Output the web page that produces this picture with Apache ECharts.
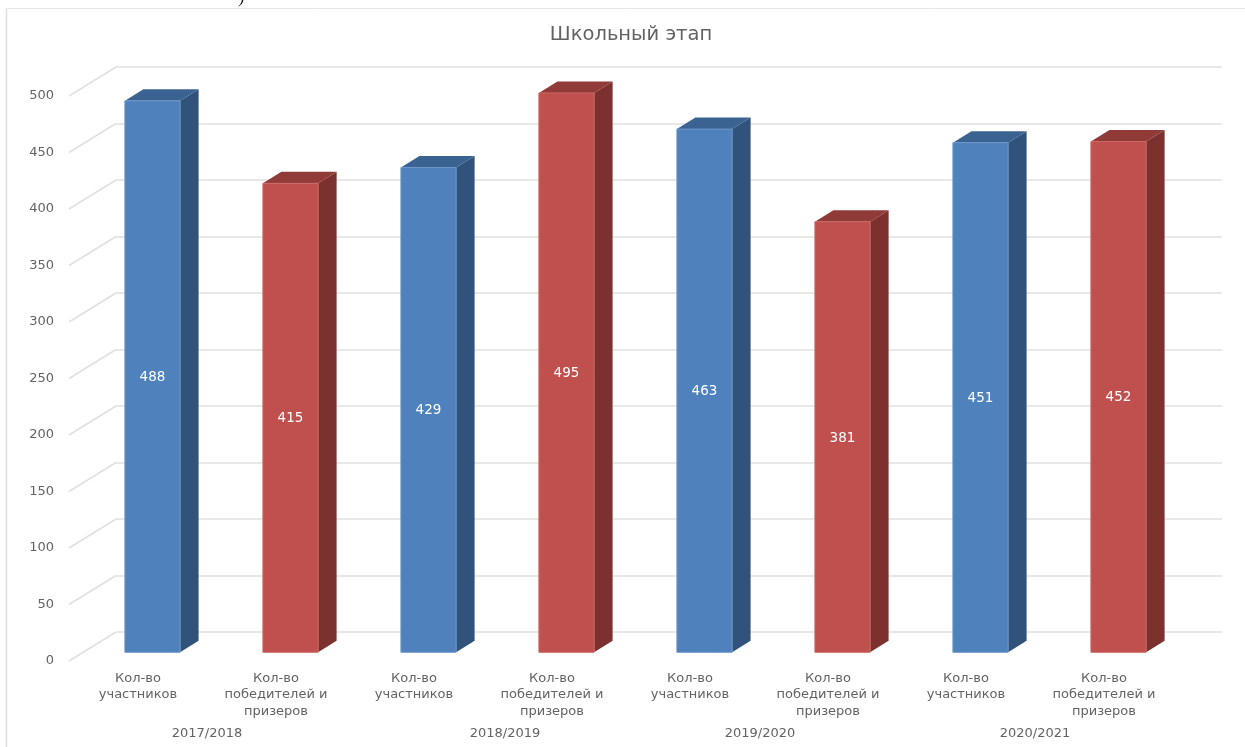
<!DOCTYPE html>
<html><head><meta charset="utf-8">
<style>html,body{margin:0;padding:0;background:#fff}#c{width:1245px;height:747px}</style>
<script src="https://cdn.jsdelivr.net/npm/echarts@6/dist/echarts.min.js"></script>
</head><body><div id="c"></div>
<script>
const categories = ["Кол-во\nучастников","Кол-во\nпобедителей и\nпризеров","Кол-во\nучастников","Кол-во\nпобедителей и\nпризеров","Кол-во\nучастников","Кол-во\nпобедителей и\nпризеров","Кол-во\nучастников","Кол-во\nпобедителей и\nпризеров"];
const participants = [488,429,463,451];
const winners = [415,495,381,452];
const years = ["2017/2018","2018/2019","2019/2020","2020/2021"];
const yearCentres = [207,505,760,1035];
const ticks = [0,50,100,150,200,250,300,350,400,450,500];
const FONT = '"DejaVu Sans", Verdana, sans-serif';
const TXT = '#636363';

const chart = echarts.init(document.getElementById('c'), null, {renderer:'canvas'});

function bar3d(colors){
  return function(params, api){
    const i = api.value(0), v = api.value(1);
    const top = api.coord([i, v]), base = api.coord([i, 0]);
    const w = api.size([1,0])[0]*0.4, dx = 18.5, dy = -11.5;
    const l = top[0]-w/2, r = top[0]+w/2, t = top[1], b = base[1];
    return {type:'group', children:[
      {type:'polygon', shape:{points:[[r,t],[r+dx,t+dy],[r+dx,b+dy],[r,b]]}, style:{fill:colors.side}},
      {type:'polygon', shape:{points:[[l,t],[l+dx,t+dy],[r+dx,t+dy],[r,t]]}, style:{fill:colors.top}},
      {type:'rect', shape:{x:l,y:t,width:w,height:b-t}, style:{fill:colors.front, stroke:colors.edge, lineWidth:1}},
      {type:'text', x:top[0], y:(t+b)/2+1, style:{text:String(v), fill:'#ffffff', font:'13.5px '+FONT, align:'center', verticalAlign:'middle'}}
    ]};
  };
}

chart.setOption({
  animation:false,
  backgroundColor:'#ffffff',
  title:{text:'Школьный этап', left:626, top:20, textAlign:'center',
    textStyle:{color:TXT, fontFamily:FONT, fontSize:19.5, fontWeight:'normal'}},
  grid:[
    {left:69, top:96, width:1104, height:565},
    {left:116, top:67, width:1106, height:565},
    {left:83.5, top:87.3, width:1104, height:565}
  ],
  xAxis:[
    {gridIndex:0, type:'category', data:categories, axisLine:{show:false}, axisTick:{show:false},
     axisLabel:{interval:0, color:TXT, fontFamily:FONT, fontSize:13, lineHeight:16.5, margin:9}},
    {gridIndex:1, type:'category', data:categories, show:false},
    {gridIndex:2, type:'category', data:categories, show:false}
  ],
  yAxis:[
    {gridIndex:0, type:'value', min:0, max:500, interval:50, axisLine:{show:false}, axisTick:{show:false}, splitLine:{show:false},
     axisLabel:{color:TXT, fontFamily:FONT, fontSize:13, margin:15}},
    {gridIndex:1, type:'value', min:0, max:500, interval:50, axisLine:{show:false}, axisTick:{show:false}, axisLabel:{show:false},
     splitLine:{show:true, lineStyle:{color:'#e0e0e0', width:1.5}}},
    {gridIndex:2, type:'value', min:0, max:500, interval:50, show:false}
  ],
  series:[
    {type:'custom', xAxisIndex:0, yAxisIndex:0, silent:true, z:1, data:ticks.map(t=>[0,t]),
     renderItem:function(p,api){
       const c = api.coord([0,api.value(1)]), x0 = c[0]-api.size([1,0])[0]/2;
       return {type:'line', shape:{x1:x0,y1:c[1],x2:x0+47,y2:c[1]-29}, style:{stroke:'#e0e0e0', lineWidth:1.5}};
     }},
    {name:'Кол-во участников', type:'custom', xAxisIndex:2, yAxisIndex:2, z:3,
     data:participants.map((v,i)=>[i*2,v]),
     renderItem:bar3d({front:'#4F81BD', top:'#3B6391', side:'#31527A', edge:'#6D97CB'})},
    {name:'Кол-во победителей и призеров', type:'custom', xAxisIndex:2, yAxisIndex:2, z:3,
     data:winners.map((v,i)=>[i*2+1,v]),
     renderItem:bar3d({front:'#C0504D', top:'#913B39', side:'#7D312F', edge:'#CC6A67'})}
  ],
  graphic:[
    {type:'line', silent:true, shape:{x1:6.5,y1:8.5,x2:1245,y2:8.5}, style:{stroke:'#e8e8e8', lineWidth:1}},
    {type:'line', silent:true, shape:{x1:6.5,y1:8.5,x2:6.5,y2:747}, style:{stroke:'#dedede', lineWidth:1.5}},
    {type:'text', silent:true, x:239, y:-9, style:{text:')', fill:'#111', font:'italic 16px "Liberation Serif", serif'}}
  ].concat(years.map((y,i)=>({type:'text', silent:true, x:yearCentres[i], y:734,
    style:{text:y, fill:TXT, font:'13px '+FONT, align:'center', verticalAlign:'middle'}})))
});
</script></body></html>
